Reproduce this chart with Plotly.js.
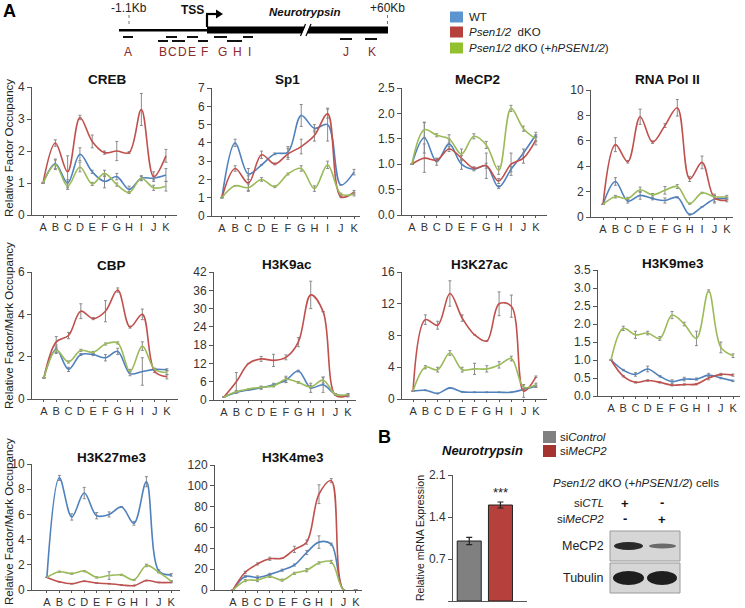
<!DOCTYPE html>
<html><head><meta charset="utf-8">
<script src="https://cdn.plot.ly/plotly-3.0.1.min.js"></script>
<style>html,body{margin:0;padding:0;background:#fff}#g{width:745px;height:608px}</style>
</head><body><div id="g"></div>
<script>
// ---------- DATA ----------
const cats = ['A','B','C','D','E','F','G','H','I','J','K'];
const seriesNames = ['WT','Psen1/2 dKO','Psen1/2 dKO (+hPSEN1/2)'];

const crebWT = [1,1.6,1.0,1.9,1.35,1.05,1.2,0.8,1.15,1.15,1.25];
const crebWTerr = [0,0.15,0.1,0.2,0.05,0.2,0.1,0.1,0.05,0.05,0.2];
const crebKO = [1,2.25,1.35,3.05,2.3,1.95,2.0,1.95,3.3,1.2,1.85];
const crebKOerr = [0,0.1,0.5,0.07,0.2,0.05,0.3,0.03,0.5,0.15,0.2];
const crebRes = [1,1.57,0.9,1.5,0.97,1.3,0.95,0.7,1.15,0.85,0.9];
const crebReserr = [0,0.15,0.1,0.15,0.05,0.1,0.05,0.03,0.08,0.08,0.15];

const sp1WT = [1,4.0,2.3,2.8,3.4,3.5,5.5,4.8,5.0,1.7,2.4];
const sp1WTerr = [0,0.2,0.3,0,0.05,0.3,0.6,0.2,0.9,0,0.15];
const sp1KO = [1,2.6,1.8,3.35,2.85,3.4,3.8,4.4,5.6,1.05,1.3];
const sp1KOerr = [0,0.15,0.4,0.2,0.05,0.3,0.4,0.3,0.25,0.05,0.1];
const sp1Res = [1,1.65,1.55,2.0,1.6,2.3,2.6,1.5,2.8,1.2,1.2];
const sp1Reserr = [0,0,0.2,0.1,0.05,0.05,0.15,0.15,0.2,0.05,0.1];

const mecWT = [1,1.52,1.05,1.4,1.0,0.9,0.97,0.55,0.9,1.22,1.58];
const mecWTerr = [0,0.3,0.07,0.1,0.1,0.03,0.25,0.03,0.05,0.08,0.05];
const mecKO = [1,1.12,1.08,1.3,1.12,0.92,0.97,0.67,1.0,1.12,1.48];
const mecKOerr = [0,0.28,0.03,0.05,0.05,0.03,0.05,0.05,0.22,0.1,0.1];
const mecRes = [1,1.68,1.57,1.5,1.2,1.55,1.38,0.88,2.1,1.7,1.5];
const mecReserr = [0,0.15,0.03,0.08,0.1,0.05,0.07,0.08,0.06,0.05,0.05];

const polWT = [1,2.8,1.25,1.7,1.45,1.3,1.55,0.2,0.8,1.4,1.45];
const polWTerr = [0,0.3,0.15,0.3,0.1,0.2,0.05,0.05,0,0.3,0.1];
const polKO = [1,5.7,4.35,7.9,5.9,7.2,8.6,3.0,4.3,1.5,1.3];
const polKOerr = [0,0.55,0.1,0.6,0.1,0.15,0.65,0.2,0.5,0.3,0.1];
const polRes = [1,1.6,1.45,2.15,1.75,2.1,2.4,1.05,1.9,1.6,1.6];
const polReserr = [0,0.1,0.1,0.2,0.1,0.3,0.15,0.05,0.05,0.1,0.1];

const cbpWT = [1,2.35,1.4,2.1,2.1,1.95,2.25,1.2,1.3,1.4,1.38];
const cbpWTerr = [0,0.2,0.1,0.05,0.05,0.15,0.15,0.1,0.65,0.05,0.05];
const cbpKO = [1,2.7,3.0,4.15,3.8,4.15,5.15,3.4,4.0,1.3,1.05];
const cbpKOerr = [0,0.25,0.15,0.35,0.05,0.5,0.1,0.05,0.25,0.05,0.1];
const cbpRes = [1,2.3,1.75,2.3,2.2,2.6,2.65,1.3,2.5,1.4,1.25];
const cbpReserr = [0,0.1,0.05,0.05,0.05,0.05,0.05,0.1,0.2,0.05,0.1];

const k9acWT = [1,2.5,3.3,4,5,6.5,9.5,4,5,1.8,1.5];
const k9acWTerr = [0,0.3,0,0.5,0.5,0.8,0.3,1.5,2.5,0.3,0.3];
const k9acKO = [1,6,12,13.5,13,14,19,34.5,29,1.5,1.5];
const k9acKOerr = [0,3,0,0.8,2,0.8,1.5,4.5,0,0,0.5];
const k9acRes = [1,2.7,3.6,4.2,4.6,6.8,5.8,4.3,6.5,1.8,1.8];
const k9acReserr = [0,0.3,0,0.3,0.3,1,0.3,0.5,1,0.3,0.3];

const k27acWT = [1,1.1,0.7,1.4,0.9,0.85,0.85,0.85,0.85,1.2,1.6];
const k27acWTerr = [0,0.05,0.05,0.05,0.05,0.05,0.05,0.05,0.05,0.1,0.15];
const k27acKO = [1,10,9.3,13.3,10.2,8.1,7.3,12,11.7,1,2.8];
const k27acKOerr = [0,0.6,0.5,1.6,0.4,0,0,1.5,1.4,0.8,0.1];
const k27acRes = [1,4,3.7,5.8,3.7,3.8,3.8,4.3,5.1,1.5,1.8];
const k27acReserr = [0,0.2,0.3,0.3,0.3,0.7,0.4,0.4,0.3,0.3,0.2];

const k9me3WT = [1,0.72,0.6,0.75,0.55,0.4,0.47,0.47,0.58,0.5,0.42];
const k9me3WTerr = [0,0.02,0.05,0.08,0.02,0.05,0.05,0.03,0.05,0.02,0.02];
const k9me3KO = [1,0.55,0.38,0.43,0.38,0.3,0.32,0.33,0.5,0.6,0.58];
const k9me3KOerr = [0,0.02,0.02,0.02,0.02,0.02,0.02,0.02,0.05,0.03,0.03];
const k9me3Res = [1,1.88,1.7,1.75,1.6,2.25,2.0,1.6,2.92,1.35,1.12];
const k9me3Reserr = [0,0.06,0.1,0.05,0.05,0.1,0.05,0.2,0.03,0.15,0.05];

const k27me3WT = [1,8.9,5.8,7.7,5.9,6.0,6.6,5.3,8.6,1.5,1.2];
const k27me3WTerr = [0,0.2,0.25,0.45,0.25,0.2,0,0.15,0.4,0.1,0.1];
const k27me3KO = [1,0.65,0.5,0.7,0.55,0.5,0.4,0.35,0.75,0.6,0.6];
const k27me3KOerr = [0,0.03,0.03,0.03,0.03,0.03,0.03,0.03,0.03,0.03,0.03];
const k27me3Res = [1,1.45,1.3,1.5,1.0,1.15,1.2,0.8,1.95,1.4,0.7];
const k27me3Reserr = [0,0.05,0.05,0.05,0.05,0.3,0.05,0.05,0.1,0.05,0.05];

const k4WT = [0,13,12,15,19,24,36,46,44,0,0];
const k4WTerr = [0,1,1.5,1,1,1,2,6,1,0,0];
const k4KO = [0,17,25,30,30.5,39,46,92,105,0,0];
const k4KOerr = [0,1,1,1.5,0,3,2,9,2,0,0];
const k4Res = [0,9,9.5,13,9.5,16,19,26,27,0,0];
const k4Reserr = [0,1,1.5,1,1,1,1.5,1,1.5,0,0];

const barCats = ['siControl','siMeCP2'];
const barVals = [1.0, 1.6];
const barErr = [0.06, 0.05];
const barTicks = [0, 0.7, 1.4, 2.1];

const primerLetters = ['A','B','C','D','E','F','G','H','I','J','K'];

// ---------- LAYOUT ----------
const F = 'Liberation Sans, Arial, sans-serif';
const W = 745, H = 608;
const dx = p => p / W, dy = p => 1 - p / H;
const cWT = '#4F81BD', cKO = '#C0504D', cRes = '#9BBB59';

const panels = [
 {t:'CREB', d:[crebWT,crebWTerr,crebKO,crebKOerr,crebRes,crebReserr], x:[32,177], xr:[-0.9,10.9], y:[87,215], yr:[0,4], dt:1, tx:107, ty:80},
 {t:'Sp1', d:[sp1WT,sp1WTerr,sp1KO,sp1KOerr,sp1Res,sp1Reserr], x:[212,360], xr:[-0.75,10.45], y:[88,216], yr:[0,7], dt:1, tx:287, ty:80},
 {t:'MeCP2', d:[mecWT,mecWTerr,mecKO,mecKOerr,mecRes,mecReserr], x:[402,547], xr:[-0.8,10.9], y:[88,215], yr:[0,2.5], dt:0.5, tf:'.1f', tx:477, ty:80},
 {t:'RNA Pol II', d:[polWT,polWTerr,polKO,polKOerr,polRes,polReserr], x:[591,733], xr:[-0.97,10.5], y:[90,217], yr:[0,10], dt:2, tx:667, ty:80},
 {t:'CBP', d:[cbpWT,cbpWTerr,cbpKO,cbpKOerr,cbpRes,cbpReserr], x:[32,178], xr:[-0.97,10.9], y:[272,399], yr:[0,6], dt:2, tx:112, ty:265},
 {t:'H3K9ac', d:[k9acWT,k9acWTerr,k9acKO,k9acKOerr,k9acRes,k9acReserr], x:[214,356], xr:[-0.8,10.65], y:[272,400], yr:[0,42], dt:6, tx:287, ty:264},
 {t:'H3K27ac', d:[k27acWT,k27acWTerr,k27acKO,k27acKOerr,k27acRes,k27acReserr], x:[402,547], xr:[-0.9,10.9], y:[272,399], yr:[0,16], dt:4, tx:480, ty:264},
 {t:'H3K9me3', d:[k9me3WT,k9me3WTerr,k9me3KO,k9me3KOerr,k9me3Res,k9me3Reserr], x:[598,740], xr:[-1.07,10.57], y:[270,396], yr:[0,3.5], dt:0.5, tf:'.1f', tx:673, ty:263},
 {t:'H3K27me3', d:[k27me3WT,k27me3WTerr,k27me3KO,k27me3KOerr,k27me3Res,k27me3Reserr], x:[32,180], xr:[-1.2,10.7], y:[464,590], yr:[0,10], dt:2, tx:112, ty:457},
 {t:'H3K4me3', d:[k4WT,k4WTerr,k4KO,k4KOerr,k4Res,k4Reserr], x:[215,362], xr:[-1.46,10.5], y:[465,590], yr:[0,120], dt:20, tx:293, ty:457}
];

const traces = [];
const layout = {
  width: W, height: H, margin: {l:0, r:0, t:0, b:0}, showlegend: false,
  paper_bgcolor: '#fff', plot_bgcolor: 'rgba(0,0,0,0)',
  font: {family: F, size: 12, color: '#222'},
  shapes: [], annotations: []
};
const xs = cats.map((c, i) => i);
const axStyle = {showline:true, linecolor:'#555', linewidth:1, ticks:'outside', tickcolor:'#555', showgrid:false, zeroline:false, fixedrange:true};

function fnt(size, color) { return {family:F, size, color: color || '#222'}; }
function ann(text, x, y, o) {
  layout.annotations.push(Object.assign({text, x:dx(x), y:dy(y), xref:'paper', yref:'paper', showarrow:false, xanchor:'center', yanchor:'middle', font:fnt(12)}, o || {}));
}
function rect(x0, y0, x1, y1, fill, line) {
  layout.shapes.push({type:'rect', xref:'paper', yref:'paper', x0:dx(x0), x1:dx(x1), y0:dy(y1), y1:dy(y0), fillcolor:fill, line:line || {width:0}});
}
function seg(x0, y0, x1, y1, color, w, dash) {
  layout.shapes.push({type:'line', xref:'paper', yref:'paper', x0:dx(x0), x1:dx(x1), y0:dy(y0), y1:dy(y1), line:{color, width:w, dash:dash || 'solid'}});
}
function poly(pts, fill) {
  const p = 'M ' + pts.map(q => dx(q[0]) + ' ' + dy(q[1])).join(' L ') + ' Z';
  layout.shapes.push({type:'path', xref:'paper', yref:'paper', path:p, fillcolor:fill, line:{width:0}});
}
function ell(x0, y0, x1, y1, fill) {
  layout.shapes.push({type:'circle', xref:'paper', yref:'paper', x0:dx(x0), x1:dx(x1), y0:dy(y1), y1:dy(y0), fillcolor:fill, line:{width:0}});
}

panels.forEach((p, i) => {
  const s = i === 0 ? '' : String(i + 1);
  const cols = [cWT, cKO, cRes];
  for (let k = 0; k < 3; k++) {
    traces.push({
      type:'scatter', mode:'lines', x: xs, y: p.d[2*k], name: seriesNames[k],
      xaxis:'x' + s, yaxis:'y' + s,
      line:{color: cols[k], width:1.6, shape:'spline', smoothing:1},
      error_y:{type:'data', array:p.d[2*k+1], visible:true, color:'#8a8a8a', thickness:1, width:1.5},
      hoverinfo:'skip'
    });
  }
  layout['xaxis' + s] = Object.assign({}, axStyle, {
    domain:[dx(p.x[0]), dx(p.x[1])], range:p.xr, anchor:'y' + s,
    tickmode:'array', tickvals:xs, ticktext:cats, ticklen:2,
    tickfont:fnt(11, '#333')
  });
  layout['yaxis' + s] = Object.assign({}, axStyle, {
    domain:[dy(p.y[1]), dy(p.y[0])], range:[p.yr[0], p.yr[1] * 1.0005], anchor:'x' + s,
    dtick:p.dt, tick0:0, tickformat:p.tf || '', ticklen:4,
    tickfont:fnt(12, '#333')
  });
  ann('<b>' + p.t + '</b>', p.tx, p.ty, {font:fnt(13.5, '#111')});
});

// Bar chart (panel B)
traces.push({
  type:'bar', x:[0,1], y:barVals, name:'', xaxis:'x11', yaxis:'y11', width:0.77,
  customdata:barCats,
  marker:{color:['#808080','#B5403C'], line:{color:'#222', width:1}},
  error_y:{type:'data', array:barErr, visible:true, color:'#222', thickness:1.2, width:3},
  hoverinfo:'skip'
});
layout.xaxis11 = Object.assign({}, axStyle, {domain:[dx(453), dx(527)], range:[-0.52, 1.85], anchor:'y11', showticklabels:false, ticks:''});
layout.yaxis11 = Object.assign({}, axStyle, {domain:[dy(601), dy(475)], range:[0, 2.1005], anchor:'x11', tickmode:'array', tickvals:barTicks, ticktext:barTicks.map(v => v.toFixed(1)), ticklen:4, tickfont:fnt(12, '#333')});

// y-axis titles
ann('Relative Factor Occupancy', 9, 148, {textangle:-90, font:fnt(11.5)});
ann('Relative Factor/Mark Occupancy', 9, 326, {textangle:-90, font:fnt(11.5)});
ann('Relative Factor/Mark Occupancy', 9, 522, {textangle:-90, font:fnt(11.5)});
ann('Relative mRNA Expression', 420, 538, {textangle:-90, font:fnt(10.5)});

// Panel letters
ann('<b>A</b>', 9, 11, {font:fnt(18, '#000')});
ann('<b>B</b>', 384, 437, {font:fnt(18, '#000')});

// Gene diagram
rect(119, 29, 207, 31.5, '#000');
poly([[207,26.5],[305,26.5],[302,33.5],[207,33.5]], '#000');
poly([[310,26.5],[388,26.5],[388,33.5],[307,33.5]], '#000');
seg(300.5, 36, 305.5, 24, '#000', 1.2);
seg(306, 36, 311, 24, '#000', 1.2);
seg(129, 15, 129, 26, '#777', 1, 'dot');
seg(387.5, 15, 387.5, 26, '#777', 1, 'dot');
seg(207, 27, 207, 14, '#000', 2.2);
seg(206, 14, 217, 14, '#000', 2.2);
poly([[216,9.5],[223,14],[216,18.5]], '#000');
ann('-1.1Kb', 129, 8, {font:fnt(12)});
ann('+60Kb', 387, 8, {font:fnt(12)});
ann('<b>TSS</b>', 192, 10, {font:fnt(12, '#111')});
ann('<b><i>Neurotrypsin</i></b>', 305, 12, {font:fnt(11.5, '#111')});
const primerBars = [[123,133,37],[158,168,41],[166,177,37],[172,185,41],[187,198,37],[198,208,41],[214,227,37],[227,242,41],[243,253,37],[340,352,39],[365,377,39]];
const primerLabelX = [128,163,172,182,192,204,222,237,249,346,372];
primerBars.forEach(b => seg(b[0], b[2], b[1], b[2], '#111', 2));
primerLetters.forEach((l, i) => ann(l, primerLabelX[i], 52, {font:fnt(12, '#8B2A2A')}));

// Top legend
const legY = [17, 32, 48];
const legCols = ['#5B95D0', '#B5403C', '#92C02E'];
const legText = ['WT', '<i>Psen1/2</i>  dKO', '<i>Psen1/2</i> dKO (+<i>hPSEN1/2</i>)'];
legY.forEach((y, i) => {
  rect(450, y - 5.5, 463, y + 5.5, legCols[i]);
  ann(legText[i], 467, y, {xanchor:'left', font:fnt(11.5)});
});

// Panel B legend and title
rect(543, 431, 556, 443, '#808080');
rect(543, 445, 556, 457, '#A5332F');
ann('si<i>Control</i>', 558, 437, {xanchor:'left', font:fnt(11.5)});
ann('si<i>MeCP2</i>', 558, 451, {xanchor:'left', font:fnt(11.5)});
ann('<b><i>Neurotrypsin</i></b>', 482, 450, {font:fnt(13, '#111')});
ann('***', 500, 492, {font:fnt(13)});

// Blot
ann('<i>Psen1/2</i> dKO (+<i>hPSEN1/2</i>) cells', 636, 483, {font:fnt(11.5)});
ann('si<i>CTL</i>', 606, 503, {xanchor:'right', font:fnt(11.5)});
ann('si<i>MeCP2</i>', 606, 519, {xanchor:'right', font:fnt(11.5)});
ann('<b>+</b>', 625, 503, {font:fnt(13, '#111')});
ann('<b>-</b>', 662, 502, {font:fnt(13, '#111')});
ann('<b>-</b>', 625, 518, {font:fnt(13, '#111')});
ann('<b>+</b>', 662, 519, {font:fnt(13, '#111')});
ann('MeCP2', 606, 546, {xanchor:'right', font:fnt(12.5)});
ann('Tubulin', 606, 578, {xanchor:'right', font:fnt(12.5)});
rect(610, 531, 680, 561, '#D6D6D6', {color:'#9a9a9a', width:1});
rect(610, 563, 680, 593, '#D6D6D6', {color:'#9a9a9a', width:1});
ell(614, 542, 643, 550, '#2a2a2a');
ell(649, 543.5, 676, 548.5, '#6a6a6a');
ell(613, 571, 644, 585, '#1e1e1e');
ell(647, 571, 677, 585, '#1e1e1e');

Plotly.newPlot('g', traces, layout, {staticPlot:true, displayModeBar:false});
</script></body></html>
